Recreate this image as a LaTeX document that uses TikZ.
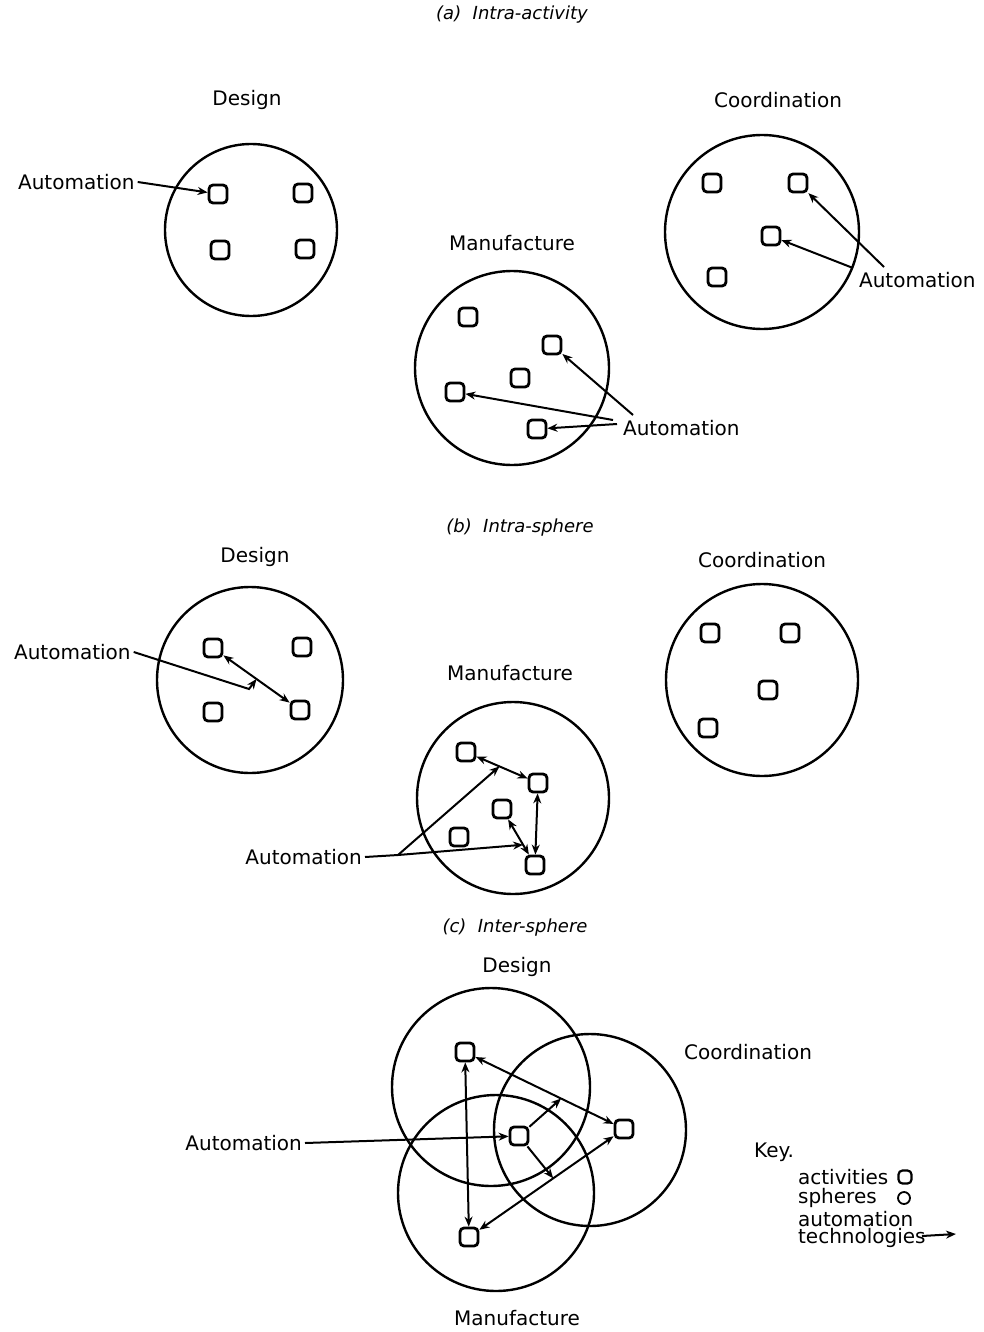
\documentclass[tikz,border=0pt]{standalone}
\usepackage{fontspec}
\setmainfont{DejaVu Sans}
\usetikzlibrary{arrows.meta, calc}
\tikzset{
  every picture/.style={line width=1.1pt},
  act/.style={draw, rounded corners=2pt, minimum size=9pt, inner sep=0pt, line width=1.4pt},
  sphere/.style={line width=1.2pt},
  lbl/.style={font=\fontsize{10}{12}\selectfont, inner sep=1pt},
  title/.style={font=\itshape\fontsize{9}{11}\selectfont},
  tech/.style={-{Stealth[length=5pt, width=4pt]}, line width=1pt},
  tie/.style={{Stealth[length=5pt, width=4pt]}-{Stealth[length=5pt, width=4pt]}, line width=1pt},
}

\begin{document}
\begin{tikzpicture}[x=0.5pt, y=-0.5pt]
  \useasboundingbox (0,0) rectangle (984,1332);
  % (a) intra-activity
  \node[title] (ta) at (512,15) {(a)\ \ Intra-activity};
  \node[lbl] (dsa) at (247,100) {Design};
  \node[lbl] (cda) at (778,100) {Coordination};
  \node[lbl] (mfa) at (512,243) {Manufacture};
  \draw[sphere] (251,230) circle[radius=86];
  \draw[sphere] (762,232) circle[radius=97];
  \draw[sphere] (512,368) circle[radius=97];
  \foreach \n/\x/\y in {ad1/218/194, ad2/303/193, ad3/220/250, ad4/305/249,
                        ac1/712/183, ac2/798/183, ac3/771/236, ac4/717/277,
                        am1/468/317, am2/552/345, am3/520/378, am4/455/392, am5/537/429}
    \node[act] (\n) at (\x,\y) {};
  \node[lbl, anchor=west] (aua) at (15,182) {Automation};
  \draw[tech] (aua.east) -- (ad1);
  \node[lbl, anchor=west] (auc) at (856,280) {Automation};
  \coordinate (kc1) at (884,267);
  \coordinate (kc2) at (853,268);
  \draw[tech] (kc1) -- (ac2);
  \draw[tech] (kc2) -- (ac3);
  \node[lbl, anchor=west] (aum) at (620,428) {Automation};
  \coordinate (km1) at (633,415);
  \coordinate (km2) at (613,420);
  \coordinate (km3) at (617,424);
  \draw[tech] (km1) -- (am2);
  \draw[tech] (km2) -- (am4);
  \draw[tech] (km3) -- (am5);

  % (b) intra-sphere
  \node[title] (tb) at (520,528) {(b)\ \ Intra-sphere};
  \node[lbl] (dsb) at (255,557) {Design};
  \node[lbl] (cdb) at (762,560) {Coordination};
  \node[lbl] (mfb) at (510,673) {Manufacture};
  \draw[sphere] (250,680) circle[radius=93];
  \draw[sphere] (762,680) circle[radius=96];
  \draw[sphere] (513,798) circle[radius=96];
  \foreach \n/\x/\y in {bd1/213/648, bd2/302/647, bd3/213/712, bd4/300/710,
                        bc1/710/633, bc2/790/633, bc3/768/690, bc4/708/728,
                        bm1/466/752, bm2/538/783, bm3/502/809, bm4/459/837, bm5/535/865}
    \node[act] (\n) at (\x,\y) {};
  \draw[tie] (bd1) -- coordinate[pos=0.5] (jb1) (bd4);
  \node[lbl, anchor=west] (aub) at (11,652) {Automation};
  \coordinate (kb1) at (249,689);
  \draw[tech] (aub.east) -- (kb1) -- (jb1);
  \draw[tie] (bm1) -- coordinate[pos=0.45] (jb2) (bm2);
  \draw[tie] (bm2) -- (bm5);
  \draw[tie] (bm3) -- coordinate[pos=0.72] (jb3) (bm5);
  \node[lbl, anchor=east] (aum2) at (365,857) {Automation};
  \coordinate (kb2) at (398,855);
  \draw[tech] (aum2.east) -- (kb2) -- (jb2);
  \draw[tech] (kb2) -- (jb3);

  % (c) inter-sphere
  \node[title] (tc) at (515,928) {(c)\ \ Inter-sphere};
  \node[lbl] (dsc) at (517,967) {Design};
  \node[lbl] (cdc) at (748,1052) {Coordination};
  \node[lbl] (mfc) at (517,1318) {Manufacture};
  \draw[sphere] (491,1087) circle[radius=99];
  \draw[sphere] (590,1130) circle[radius=96];
  \draw[sphere] (496,1193) circle[radius=98];
  \foreach \n/\x/\y in {cc1/465/1052, cc2/519/1136, cc3/624/1129, cc4/469/1237}
    \node[act] (\n) at (\x,\y) {};
  \draw[tie] (cc1) -- coordinate[pos=0.62] (jc1) (cc3);
  \draw[tie] (cc1) -- (cc4);
  \draw[tie] (cc4) -- coordinate[pos=0.55] (jc2) (cc3);
  \draw[tech] (cc2) -- (jc1);
  \draw[tech] (cc2) -- (jc2);
  \node[lbl, anchor=east] (auc3) at (305,1143) {Automation};
  \draw[tech] (auc3.east) -- (cc2);

  % key
  \node[lbl, anchor=west] (key) at (751,1152) {Key.};
  \node[lbl, anchor=west] (ka) at (795,1177) {activities};
  \node[act, minimum size=6.5pt, line width=1.1pt] (ksq) at (905,1177) {};
  \node[lbl, anchor=west] (ks) at (795,1198) {spheres};
  \draw[line width=0.9pt] (904,1198) circle[radius=6];
  \node[lbl, anchor=west] (kt1) at (795,1219) {automation};
  \node[lbl, anchor=west] (kt2) at (795,1238) {technologies};
  \coordinate (ke1) at (922,1236);
  \coordinate (ke2) at (956,1234);
  \draw[tech] (ke1) -- (ke2);
\end{tikzpicture}
\end{document}
